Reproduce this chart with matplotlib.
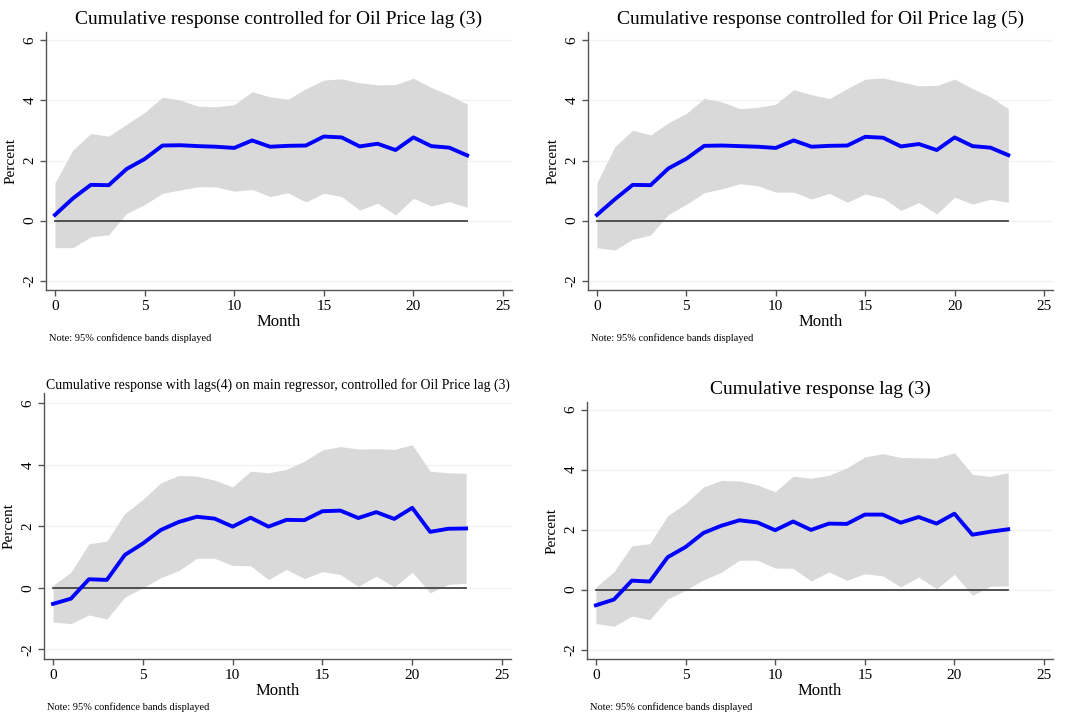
import matplotlib
matplotlib.use("Agg")
import matplotlib.pyplot as plt
import numpy as np

plt.rcParams['font.family'] = ['Liberation Serif', 'DejaVu Serif']

months = list(range(24))

titles = [
    "Cumulative response controlled for Oil Price lag (3)",
    "Cumulative response controlled for Oil Price lag (5)",
    "Cumulative response with lags(4) on main regressor, controlled for Oil Price lag (3)",
    "Cumulative response lag (3)",
]

resp1 = [0.19, 0.74, 1.19, 1.18, 1.72, 2.05, 2.50, 2.51, 2.48, 2.46, 2.42, 2.67,
         2.46, 2.49, 2.50, 2.80, 2.77, 2.47, 2.56, 2.35, 2.77, 2.48, 2.43, 2.17]
upper1 = [1.26, 2.35, 2.90, 2.81, 3.21, 3.60, 4.11, 4.01, 3.81, 3.79, 3.86, 4.29,
          4.12, 4.04, 4.39, 4.68, 4.72, 4.59, 4.52, 4.53, 4.74, 4.43, 4.18, 3.88]
lower1 = [-0.90, -0.90, -0.54, -0.47, 0.24, 0.53, 0.91, 1.02, 1.13, 1.12, 0.98, 1.04,
          0.80, 0.93, 0.62, 0.91, 0.80, 0.35, 0.58, 0.19, 0.74, 0.49, 0.63, 0.44]

resp2 = [0.19, 0.71, 1.19, 1.18, 1.74, 2.06, 2.49, 2.50, 2.48, 2.46, 2.42, 2.67,
         2.46, 2.49, 2.50, 2.79, 2.76, 2.47, 2.55, 2.35, 2.77, 2.48, 2.43, 2.18]
upper2 = [1.26, 2.46, 3.01, 2.85, 3.26, 3.57, 4.07, 3.95, 3.73, 3.77, 3.88, 4.36,
          4.19, 4.06, 4.40, 4.71, 4.75, 4.62, 4.49, 4.50, 4.71, 4.40, 4.12, 3.73]
lower2 = [-0.90, -0.98, -0.62, -0.48, 0.21, 0.54, 0.93, 1.06, 1.23, 1.16, 0.95, 0.95,
          0.72, 0.91, 0.61, 0.89, 0.75, 0.34, 0.60, 0.22, 0.78, 0.55, 0.71, 0.61]

resp3 = [-0.52, -0.35, 0.28, 0.26, 1.07, 1.44, 1.88, 2.14, 2.31, 2.25, 1.99, 2.28,
         1.99, 2.21, 2.20, 2.49, 2.51, 2.27, 2.46, 2.24, 2.60, 1.82, 1.92, 1.93]
upper3 = [0.08, 0.51, 1.43, 1.52, 2.42, 2.87, 3.41, 3.65, 3.63, 3.50, 3.28, 3.79,
          3.74, 3.85, 4.12, 4.48, 4.59, 4.51, 4.52, 4.50, 4.65, 3.79, 3.74, 3.72]
lower3 = [-1.11, -1.16, -0.88, -1.01, -0.30, 0.00, 0.33, 0.56, 0.96, 0.96, 0.73, 0.72,
          0.27, 0.60, 0.30, 0.53, 0.43, 0.05, 0.38, 0.03, 0.51, -0.16, 0.11, 0.15]

resp4 = [-0.52, -0.33, 0.30, 0.27, 1.08, 1.42, 1.89, 2.13, 2.31, 2.24, 1.98, 2.27,
         1.99, 2.20, 2.19, 2.50, 2.50, 2.23, 2.42, 2.20, 2.53, 1.83, 1.93, 2.01]
upper4 = [0.09, 0.59, 1.46, 1.53, 2.46, 2.87, 3.42, 3.64, 3.62, 3.49, 3.26, 3.78,
          3.71, 3.81, 4.06, 4.42, 4.53, 4.40, 4.39, 4.38, 4.56, 3.84, 3.77, 3.90]
lower4 = [-1.13, -1.22, -0.88, -1.00, -0.31, -0.02, 0.33, 0.58, 0.98, 0.98, 0.72, 0.71,
          0.29, 0.59, 0.31, 0.53, 0.46, 0.09, 0.42, 0.03, 0.51, -0.19, 0.11, 0.13]

x_ticks = [0, 5, 10, 15, 20, 25]
y_ticks = [-2, 0, 2, 4, 6]
note_text = "Note: 95% confidence bands displayed"

W, H = 1065, 716
fig = plt.figure(figsize=(W / 100, H / 100), dpi=100)
fig.patch.set_facecolor("white")

# pixel boxes: left, right, top, bottom
boxes = [(46, 512, 32, 290), (588, 1053, 32, 290), (44, 511, 393, 659), (587, 1053, 402, 659)]
ylims = [(-2.31, 6.28), (-2.31, 6.28), (-2.31, 6.33), (-2.31, 6.25)]
title_sizes = [14, 14, 9.9, 14]
title_pads = [6, 6, 3, 6]
series = [(resp1, upper1, lower1), (resp2, upper2, lower2),
          (resp3, upper3, lower3), (resp4, upper4, lower4)]

spine_col = "#555555"
for i in range(4):
    l, r, t, b = boxes[i]
    ax = fig.add_axes([l / W, 1 - b / H, (r - l) / W, (b - t) / H])
    resp, up, lo = series[i]
    ax.set_xlim(-0.5, 25.5)
    ax.set_ylim(*ylims[i])
    for yv in y_ticks:
        ax.axhline(yv, color="#eef4f5", lw=1.0, zorder=0)
    ax.fill_between(months, lo, up, color="#d9d9d9", lw=0, zorder=1)
    ax.plot([months[0], months[-1]], [0, 0], color="#444444", lw=1.3, zorder=2)
    ax.plot(months, resp, color="#0000ff", lw=2.8, zorder=3, solid_joinstyle="round")
    ax.set_xticks(x_ticks)
    ax.set_yticks(y_ticks)
    ax.set_xticklabels([str(v) for v in x_ticks], fontsize=11)
    ax.set_yticklabels([str(v) for v in y_ticks], fontsize=11, rotation=90, va="center")
    ax.tick_params(axis="both", length=4, width=1.0, color=spine_col, pad=3)
    for s in ["top", "right"]:
        ax.spines[s].set_visible(False)
    for s in ["left", "bottom"]:
        ax.spines[s].set_color(spine_col)
        ax.spines[s].set_linewidth(1.0)
    ax.set_xlabel("Month", fontsize=12, labelpad=1)
    ax.set_ylabel("Percent", fontsize=11, labelpad=4)
    ax.set_title(titles[i], fontsize=title_sizes[i], pad=title_pads[i])
    ax.text(l / W + 0.003, 1 - (b + 48) / H, note_text, transform=fig.transFigure,
            fontsize=7.5, ha="left", va="center")

fig.savefig("out.png", dpi=100, facecolor="white")
